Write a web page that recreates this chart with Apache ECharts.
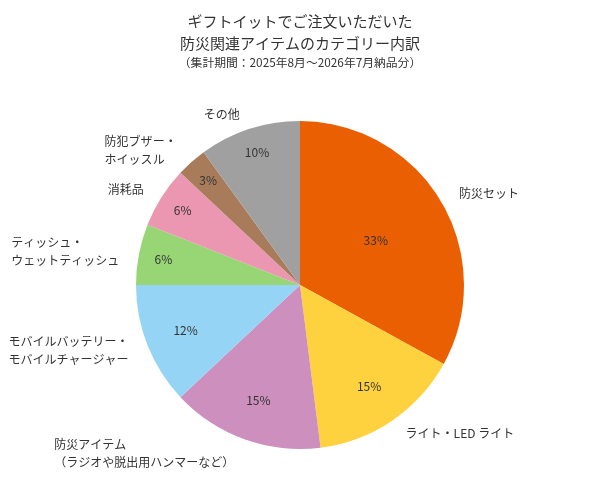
<!DOCTYPE html>
<html><head><meta charset="utf-8">
<script src="https://cdn.jsdelivr.net/npm/echarts@6/dist/echarts.min.js"></script>
<style>html,body{margin:0;padding:0;background:#fff}#c{width:600px;height:480px}</style>
</head><body><div id="c"></div>
<script>
const categories = ['防災セット','ライト・LED ライト','防災アイテム\n（ラジオや脱出用ハンマーなど）','モバイルバッテリー・\nモバイルチャージャー','ティッシュ・\nウェットティッシュ','消耗品','防犯ブザー・\nホイッスル','その他'];
const values = [33,15,15,12,6,6,3,10];
const colors = ['#EB5F03','#FED23F','#CC8FBE','#95D4F5','#97D575','#EB97B2','#A87C5B','#A0A0A0'];
const FONT = '"Noto Sans CJK JP", "Noto Sans", sans-serif';

const CENTER = [300,285];
const R = 164;
const mainData = categories.map((n,i)=>({name:n,value:values[i],itemStyle:{color:colors[i]}}));
const chart = echarts.init(document.getElementById('c'), null, {renderer:'canvas'});

// invisible pie whose inside labels sit at radius/2, shown only for the chosen slices
function pctSeries(labelDist, keep){
  return {type:'pie',center:CENTER,radius:labelDist*2,startAngle:90,clockwise:true,silent:true,z:5,
    data:categories.map((n,i)=>({name:n,value:values[i]})),
    itemStyle:{color:'rgba(0,0,0,0)'},
    label:{show:true,position:'inside',fontFamily:FONT,fontSize:12,color:'#333',
      formatter:(p)=> keep(p.value) ? p.value + '%' : ''},
    labelLine:{show:false}};
}

chart.setOption({
  animation:false,
  title:{
    text:'ギフトイットでご注文いただいた\n防災関連アイテムのカテゴリー内訳',
    subtext:'（集計期間：2025年8月〜2026年7月納品分）',
    left:'center', top:5, itemGap:3,
    textStyle:{fontFamily:FONT,fontSize:15,fontWeight:'normal',color:'#333',lineHeight:22},
    subtextStyle:{fontFamily:FONT,fontSize:11.8,color:'#333'}
  },
  series:[
    {type:'pie',center:CENTER,radius:R,startAngle:90,clockwise:true,silent:true,
     data:mainData,
     label:{show:true,position:'outside',overflow:'none',bleedMargin:0,fontFamily:FONT,fontSize:12,color:'#333',lineHeight:18,formatter:'{b}'},
     labelLine:{show:false,length:15,length2:0},
     labelLayout:(p)=>({x:p.labelRect.x, align:'left'})},
    pctSeries(85, v=>v>=30),
    pctSeries(120, v=>v>=12 && v<30),
    pctSeries(136, v=>v<12)
  ]
});
</script></body></html>
